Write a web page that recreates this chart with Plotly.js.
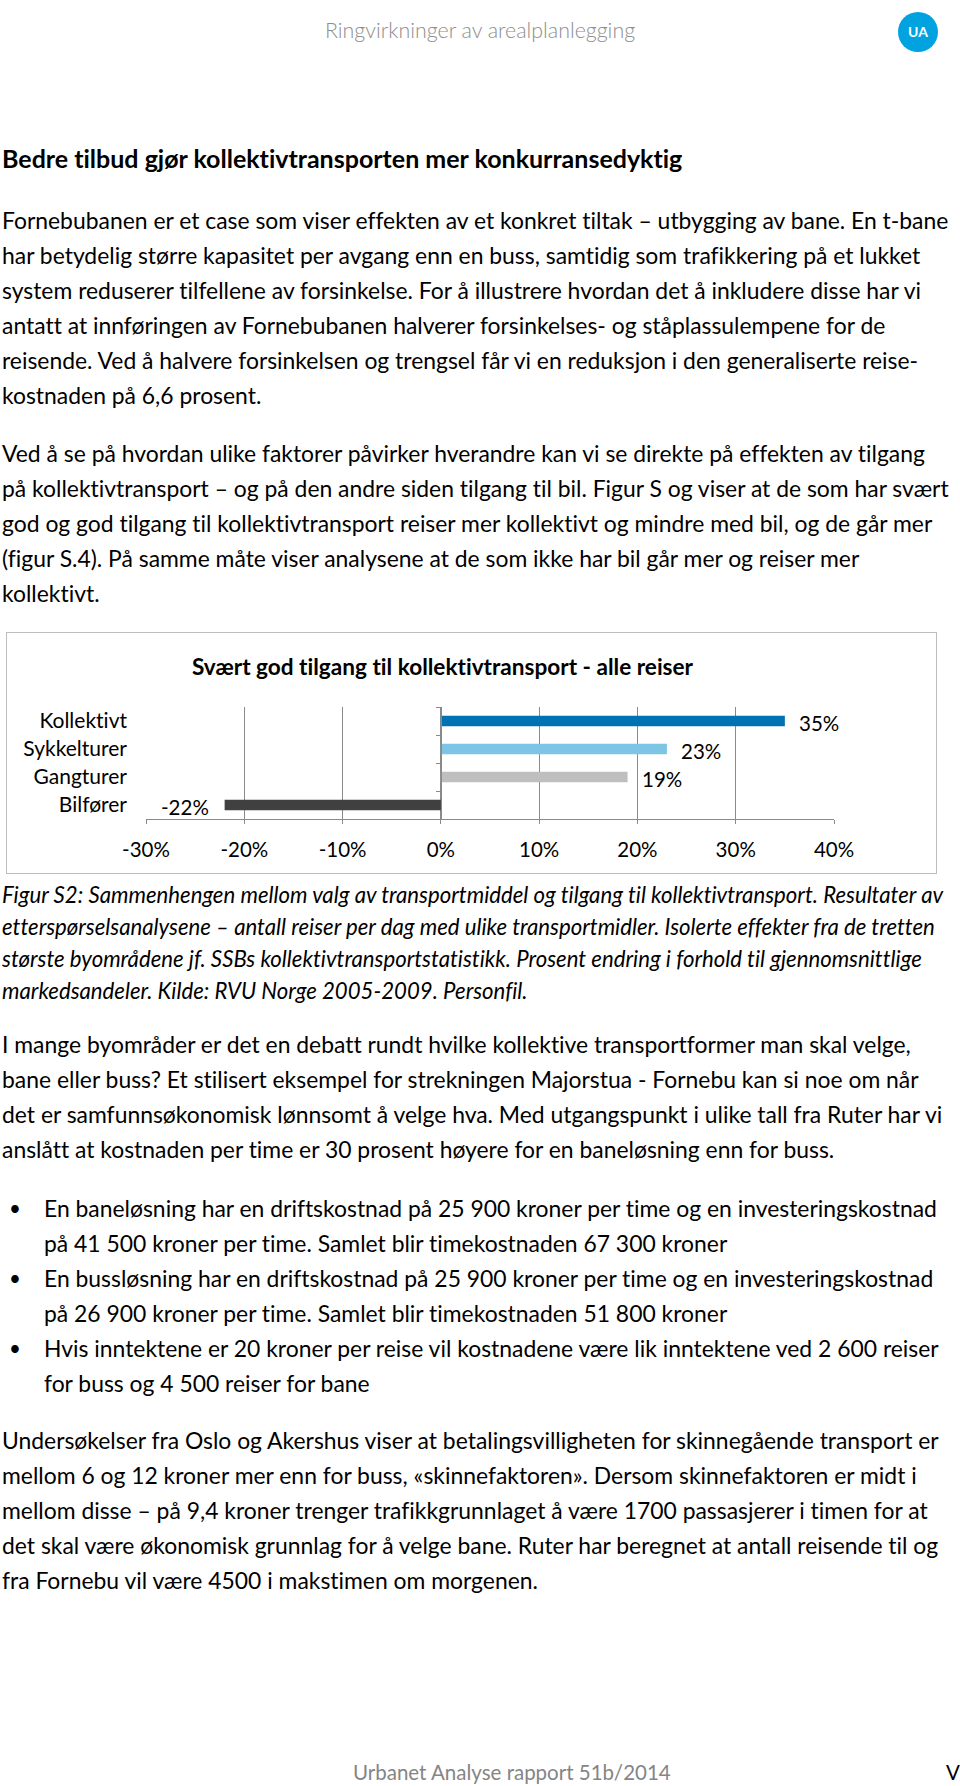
<!DOCTYPE html>
<html lang="no">
<head>
<meta charset="utf-8">
<script src="https://cdn.plot.ly/plotly-3.0.1.min.js"></script>
<style>
  html, body { margin: 0; padding: 0; background: #fff; }
  body { width: 960px; height: 1786px; position: relative; overflow: hidden;
         font-family: Lato, "Open Sans", sans-serif; color: #000;
         font-variant-ligatures: none; font-feature-settings: "liga" 0, "clig" 0; }
  .p { position: absolute; left: 2px; font-size: 22.9px; line-height: 35px; white-space: nowrap; }
  .it { font-style: italic; font-size: 22.2px; line-height: 32px; }
  .hdr { position: absolute; top: 17.6px; left: 0; width: 960px; text-align: center;
         font-size: 21.4px; line-height: 1.2; color: #8d8d8d; font-weight: 300; }
  .ua { position: absolute; left: 898px; top: 12px; width: 40px; height: 40px; border-radius: 50%;
        background: #00a3e0; color: #fff; font-weight: bold; font-size: 14px; line-height: 40px; text-align: center; }
  .h2 { position: absolute; left: 2px; top: 142.5px; font-size: 25px; line-height: 1.2; font-weight: bold; white-space: nowrap; }
  .bul { position: absolute; left: 9px; font-size: 20.5px; line-height: 35px; }
  .footer { position: absolute; top: 1760px; left: 353px; font-size: 20.5px; color: #858585; white-space: nowrap; }
  .pg { position: absolute; top: 1760px; left: 946px; font-size: 20.5px; color: #000; }
  #box { position: absolute; left: 6px; top: 632px; width: 931px; height: 242px;
         border: 1px solid #bdbdbd; box-sizing: border-box; }
  #chart { position: absolute; left: 0; top: 0; width: 929px; height: 240px; }
  #chart text { font-variant-ligatures: none; font-feature-settings: "liga" 0, "clig" 0; }
</style>
</head>
<body>
<div class="hdr">Ringvirkninger av arealplanlegging</div>
<div class="ua">UA</div>

<div class="h2">Bedre tilbud gjør kollektivtransporten mer konkurransedyktig</div>

<div class="p" style="top:203px">Fornebubanen er et case som viser effekten av et konkret tiltak – utbygging av bane. En t-bane<br>har betydelig større kapasitet per avgang enn en buss, samtidig som trafikkering på et lukket<br>system reduserer tilfellene av forsinkelse. For å illustrere hvordan det å inkludere disse har vi<br>antatt at innføringen av Fornebubanen halverer forsinkelses- og ståplassulempene for de<br>reisende. Ved å halvere forsinkelsen og trengsel får vi en reduksjon i den generaliserte reise-<br>kostnaden på 6,6 prosent.</div>

<div class="p" style="top:436px">Ved å se på hvordan ulike faktorer påvirker hverandre kan vi se direkte på effekten av tilgang<br>på kollektivtransport – og på den andre siden tilgang til bil. Figur S og viser at de som har svært<br>god og god tilgang til kollektivtransport reiser mer kollektivt og mindre med bil, og de går mer<br>(figur S.4). På samme måte viser analysene at de som ikke har bil går mer og reiser mer<br>kollektivt.</div>

<div id="box"><div id="chart"></div></div>

<div class="p it" style="top:878.5px">Figur S2: Sammenhengen mellom valg av transportmiddel og tilgang til kollektivtransport. Resultater av<br>etterspørselsanalysene – antall reiser per dag med ulike transportmidler. Isolerte effekter fra de tretten<br>største byområdene jf. SSBs kollektivtransportstatistikk. Prosent endring i forhold til gjennomsnittlige<br>markedsandeler. Kilde: RVU Norge 2005-2009. Personfil.</div>

<div class="p" style="top:1027px">I mange byområder er det en debatt rundt hvilke kollektive transportformer man skal velge,<br>bane eller buss? Et stilisert eksempel for strekningen Majorstua - Fornebu kan si noe om når<br>det er samfunnsøkonomisk lønnsomt å velge hva. Med utgangspunkt i ulike tall fra Ruter har vi<br>anslått at kostnaden per time er 30 prosent høyere for en baneløsning enn for buss.</div>

<div class="bul" style="top:1191px">•</div>
<div class="p" style="top:1191px; left:44px">En baneløsning har en driftskostnad på 25 900 kroner per time og en investeringskostnad<br>på 41 500 kroner per time. Samlet blir timekostnaden 67 300 kroner</div>
<div class="bul" style="top:1261px">•</div>
<div class="p" style="top:1261px; left:44px">En bussløsning har en driftskostnad på 25 900 kroner per time og en investeringskostnad<br>på 26 900 kroner per time. Samlet blir timekostnaden 51 800 kroner</div>
<div class="bul" style="top:1331px">•</div>
<div class="p" style="top:1331px; left:44px">Hvis inntektene er 20 kroner per reise vil kostnadene være lik inntektene ved 2 600 reiser<br>for buss og 4 500 reiser for bane</div>

<div class="p" style="top:1423px">Undersøkelser fra Oslo og Akershus viser at betalingsvilligheten for skinnegående transport er<br>mellom 6 og 12 kroner mer enn for buss, «skinnefaktoren». Dersom skinnefaktoren er midt i<br>mellom disse – på 9,4 kroner trenger trafikkgrunnlaget å være 1700 passasjerer i timen for at<br>det skal være økonomisk grunnlag for å velge bane. Ruter har beregnet at antall reisende til og<br>fra Fornebu vil være 4500 i makstimen om morgenen.</div>

<div class="footer">Urbanet Analyse rapport 51b/2014</div>
<div class="pg">V</div>

<script>
// ---- data ----
const chartTitle = 'Svært god tilgang til kollektivtransport - alle reiser';
const categories = ['Kollektivt', 'Sykkelturer', 'Gangturer', 'Bilfører'];
const changePct = [35, 23, 19, -22];
const xTickVals = [-30, -20, -10, 0, 10, 20, 30, 40];
const xTickText = ['-30%', '-20%', '-10%', '0%', '10%', '20%', '30%', '40%'];

// ---- style ----
const barColors = ['#0071b3', '#7ec4e4', '#bfbfbf', '#404040'];
const FONT = 'Lato, "Open Sans", sans-serif';
const GRID = '#8a8a8a';
const xMin = -30, xMax = 40;
const zeroPos = (0 - xMin) / (xMax - xMin);
const catRange = [categories.length - 0.5, -0.5];

const traces = [
  {
    type: 'bar', orientation: 'h',
    x: changePct, y: categories,
    marker: { color: barColors, line: { width: 0 } },
    width: 0.37, hoverinfo: 'skip', showlegend: false
  },
  {
    // carrier for the category axis drawn at 0 %
    type: 'scatter', mode: 'markers', yaxis: 'y2',
    x: changePct, y: categories,
    marker: { opacity: 0, size: 1 }, hoverinfo: 'skip', showlegend: false
  }
];

const annotations = changePct.map((v, i) => ({
  x: v, y: categories[i], xref: 'x', yref: 'y',
  text: v + '%', showarrow: false,
  xanchor: v >= 0 ? 'left' : 'right',
  xshift: v >= 0 ? 12 : -14, yshift: -2,
  font: { family: FONT, size: 20.5, color: '#000' }
}));

const layout = {
  width: 929, height: 240,
  margin: { l: 139, r: 102, t: 74, b: 54 },
  paper_bgcolor: '#fff', plot_bgcolor: '#fff',
  font: { family: FONT, size: 20, color: '#000' },
  title: {
    text: '<b>' + chartTitle + '</b>',
    x: 0.4688, xref: 'container', xanchor: 'center',
    y: 1 - 34 / 240, yref: 'container', yanchor: 'middle',
    font: { family: FONT, size: 22.6, color: '#000' }
  },
  xaxis: {
    range: [xMin, xMax], tickvals: xTickVals, ticktext: xTickText,
    showgrid: true, gridcolor: GRID, gridwidth: 1,
    zeroline: false, showline: true, linecolor: GRID, linewidth: 1,
    ticks: 'outside', ticklen: 4, tickcolor: GRID,
    ticklabelstandoff: 8,
    tickfont: { family: FONT, size: 20.5, color: '#000' },
    fixedrange: true
  },
  yaxis: {
    type: 'category', categoryorder: 'array', categoryarray: categories,
    range: catRange, showgrid: false, zeroline: false, showline: false,
    ticks: '', ticklabelstandoff: 18,
    tickfont: { family: FONT, size: 21, color: '#000' },
    fixedrange: true
  },
  yaxis2: {
    type: 'category', categoryorder: 'array', categoryarray: categories,
    range: catRange, overlaying: 'y', anchor: 'free', position: zeroPos, side: 'left',
    showgrid: false, zeroline: false, showline: true, linecolor: GRID, linewidth: 1,
    ticks: 'outside', tickson: 'boundaries', ticklen: 5, tickcolor: GRID,
    showticklabels: false, fixedrange: true
  },
  bargap: 0.63,
  annotations: annotations,
  showlegend: false
};

Plotly.newPlot('chart', traces, layout, { staticPlot: true, displayModeBar: false });
</script>
</body>
</html>
